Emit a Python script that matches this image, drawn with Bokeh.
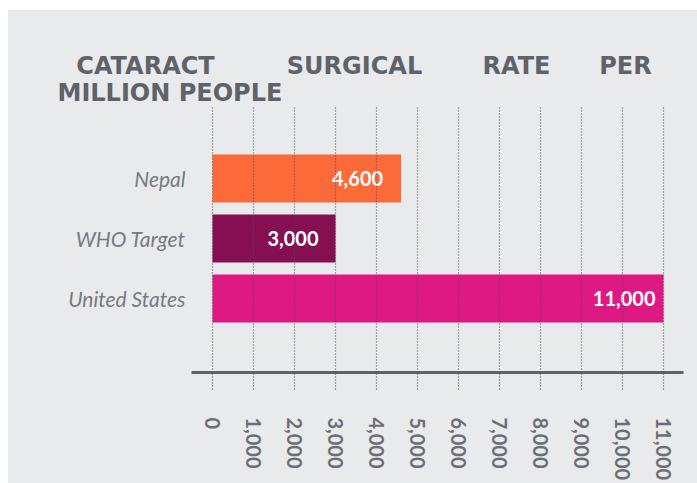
from bokeh.plotting import figure
from bokeh.models import (Range1d, FixedTicker, ColumnDataSource,
                          NumeralTickFormatter, Spacer)
from bokeh.layouts import column, row
from bokeh.embed import file_html
from bokeh.resources import INLINE
from bokeh.core.properties import value

# ---- data ----
categories = ["Nepal", "WHO Target", "United States"]
rates = [4600, 3000, 11000]
value_labels = ["4,600", "3,000", "11,000"]
x_ticks = [0, 1000, 2000, 3000, 4000, 5000, 6000, 7000, 8000, 9000, 10000, 11000]
title_line1 = ["CATARACT", "SURGICAL", "RATE", "PER"]
title_line2 = ["MILLION PEOPLE"]

# ---- style ----
bar_colors = ["#FD6A39", "#860F52", "#DF1983"]
label_offsets = [-18, -17, -8]
BG = "#E9EAEC"
TITLE_C = "#5E6269"
FONT = "Lato"
TFONT = "DejaVu Sans"

W = 689
TITLE_H = 95
MAIN_H = 378

# ---------------- title strip ----------------
t = figure(width=W, height=TITLE_H, output_backend="svg", toolbar_location=None,
           x_range=Range1d(0, W), y_range=Range1d(TITLE_H, 0),
           x_axis_type=None, y_axis_type=None, min_border=0)
t.frame_align = False
t.background_fill_color = BG
t.border_fill_color = BG
t.outline_line_color = None
t.grid.visible = False

line1_centres = [137, 346, 508, 617]
t.text(x=line1_centres, y=[55] * len(title_line1), text=title_line1,
       text_font=value(TFONT), text_font_style="bold", text_font_size="24px",
       text_color=TITLE_C, text_align="center", text_baseline="alphabetic")
t.text(x=[49], y=[82], text=title_line2,
       text_font=value(TFONT), text_font_style="bold", text_font_size="24px",
       text_color=TITLE_C, text_align="left", text_baseline="alphabetic")

# ---------------- main chart ----------------
positions = [len(categories) - 1 - i for i in range(len(categories))]
src = ColumnDataSource(dict(y=positions, right=rates, color=bar_colors,
                            label=value_labels, off=label_offsets))

p = figure(width=W, height=MAIN_H, output_backend="svg", toolbar_location=None,
           x_range=Range1d(-512, 11488), y_range=Range1d(-1.233, 3.217),
           min_border_left=183, min_border_right=14, min_border_top=0,
           min_border_bottom=111)
p.frame_align = False
p.background_fill_color = BG
p.border_fill_color = BG
p.outline_line_color = None

p.hbar(y="y", left=0, right="right", height=0.8, fill_color="color",
       line_color=None, source=src)
p.text(x="right", y="y", text="label", x_offset="off", text_align="right",
       text_baseline="middle", text_color="white", text_font=value(FONT),
       text_font_style="bold", text_font_size="20px", source=src)

xa = p.xaxis[0]
xa.ticker = FixedTicker(ticks=x_ticks)
xa.formatter = NumeralTickFormatter(format="0,0")
xa.major_label_orientation = "vertical"
xa.axis_line_width = 3
xa.axis_line_color = "#5F6368"
xa.major_tick_in = 0
xa.major_tick_out = 17
xa.major_tick_line_dash = "1 2"
xa.major_tick_line_width = 1.2
xa.major_tick_line_color = "#4A4E55"
xa.minor_tick_line_color = None
xa.major_label_standoff = 28
xa.major_label_text_font = FONT
xa.major_label_text_font_style = "bold"
xa.major_label_text_font_size = "20px"
xa.major_label_text_color = "#6B6F75"

ya = p.yaxis[0]
ya.ticker = FixedTicker(ticks=positions)
ya.major_label_overrides = {pos: cat for pos, cat in zip(positions, categories)}
ya.axis_line_color = None
ya.major_tick_line_color = None
ya.minor_tick_line_color = None
ya.major_label_standoff = 0
ya.major_label_text_font = FONT
ya.major_label_text_font_style = "italic"
ya.major_label_text_font_size = "21px"
ya.major_label_text_color = "#777B81"

p.ygrid.visible = False
p.xgrid.ticker = FixedTicker(ticks=x_ticks)
p.xgrid.grid_line_dash = "1 2"
p.xgrid.grid_line_width = 1.2
p.xgrid.grid_line_color = "#4A4E55"
p.xgrid.grid_line_alpha = 0.9
p.xgrid.level = "overlay"

inner = column(t, p, spacing=0, styles={"background-color": BG})
layout = column(Spacer(width=697, height=10),
                row(Spacer(width=8, height=TITLE_H + MAIN_H), inner, spacing=0),
                spacing=0)

open("out.html", "w").write(file_html(layout, INLINE))
